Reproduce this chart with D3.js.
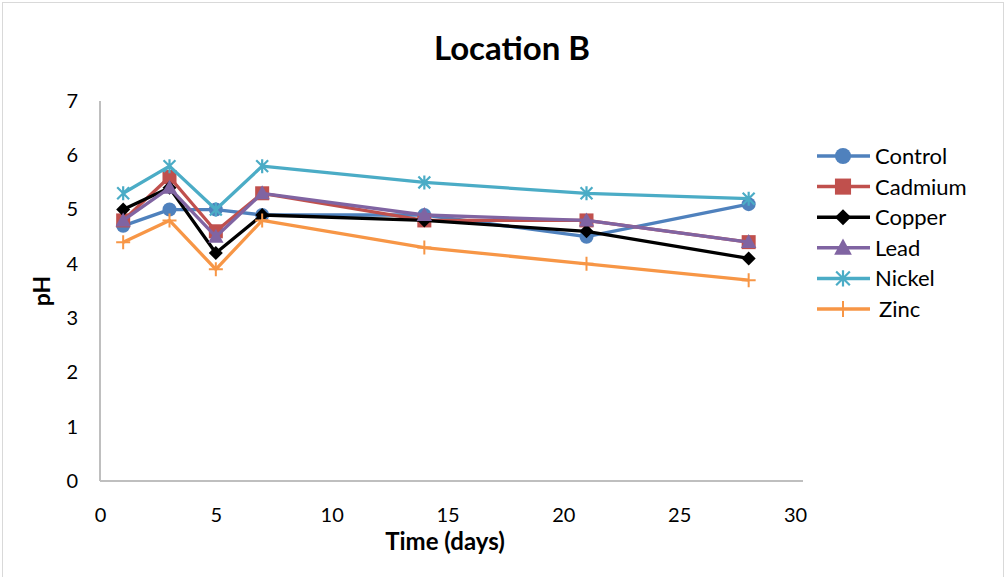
<!DOCTYPE html>
<html>
<head>
<meta charset="utf-8">
<script src="https://cdn.jsdelivr.net/npm/d3@7"></script>
<style>
  body { margin: 0; background: #ffffff; }
  svg text { font-family: Lato, "Open Sans", sans-serif; fill: #000000; }
</style>
</head>
<body>
<div id="chart-container"></div>
<script>
const DAYS = [1, 3, 5, 7, 14, 21, 28];
const SERIES_NAMES = ["Control", "Cadmium", "Copper", "Lead", "Nickel", "Zinc"];
const CONTROL = [4.7, 5.0, 5.0, 4.9, 4.9, 4.5, 5.1];
const CADMIUM = [4.8, 5.6, 4.6, 5.3, 4.8, 4.8, 4.4];
const COPPER  = [5.0, 5.4, 4.2, 4.9, 4.8, 4.6, 4.1];
const LEAD    = [4.8, 5.4, 4.5, 5.3, 4.9, 4.8, 4.4];
const NICKEL  = [5.3, 5.8, 5.0, 5.8, 5.5, 5.3, 5.2];
const ZINC    = [4.4, 4.8, 3.9, 4.8, 4.3, 4.0, 3.7];
const X_TICKS = [0, 5, 10, 15, 20, 25, 30];
const Y_TICKS = [0, 1, 2, 3, 4, 5, 6, 7];

const SERIES_VALUES = [CONTROL, CADMIUM, COPPER, LEAD, NICKEL, ZINC];
const SERIES_COLORS = ["#4F81BD", "#C0504D", "#000000", "#8064A2", "#4BACC6", "#F79646"];
const SERIES_SHAPES = ["circle", "square", "diamond", "triangle", "asterisk", "plus"];

const SVG_WIDTH = 1006;
const SVG_HEIGHT = 577;
const X_LEFT = 100, X_RIGHT = 795;
const Y_TOP = 101, Y_BOTTOM = 481;

const svg = d3.select("#chart-container")
  .append("svg")
  .attr("width", SVG_WIDTH)
  .attr("height", SVG_HEIGHT);

// outer chart border
svg.append("rect")
  .attr("x", 2.5).attr("y", 2.5)
  .attr("width", SVG_WIDTH - 5).attr("height", SVG_HEIGHT + 10)
  .attr("fill", "none")
  .attr("stroke", "#d9d9d9");

const xScale = d3.scaleLinear().domain([0, 30]).range([X_LEFT, X_RIGHT]);
const yScale = d3.scaleLinear().domain([0, 7]).range([Y_BOTTOM, Y_TOP]);

function drawMarker(g, shape, color, cx, cy, k) {
  const s = 7 * k;
  if (shape == "circle") {
    g.append("circle").attr("cx", cx).attr("cy", cy).attr("r", s).attr("fill", color);
  } else if (shape == "square") {
    g.append("rect").attr("x", cx - s).attr("y", cy - s)
      .attr("width", 2 * s).attr("height", 2 * s).attr("fill", color);
  } else if (shape == "diamond") {
    g.append("path")
      .attr("d", `M${cx},${cy - s} L${cx + s},${cy} L${cx},${cy + s} L${cx - s},${cy} Z`)
      .attr("fill", color);
  } else if (shape == "triangle") {
    g.append("path")
      .attr("d", `M${cx},${cy - 1.15 * s} L${cx + 1.1 * s},${cy + 0.85 * s} L${cx - 1.1 * s},${cy + 0.85 * s} Z`)
      .attr("fill", color);
  } else if (shape == "asterisk") {
    const a = 0.85 * s;
    g.append("path")
      .attr("d", `M${cx - a},${cy - a} L${cx + a},${cy + a} M${cx - a},${cy + a} L${cx + a},${cy - a} M${cx},${cy - s} L${cx},${cy + s}`)
      .attr("stroke", color).attr("stroke-width", 2.2).attr("fill", "none");
  } else if (shape == "plus") {
    g.append("path")
      .attr("d", `M${cx - s},${cy} L${cx + s},${cy} M${cx},${cy - s} L${cx},${cy + s}`)
      .attr("stroke", color).attr("stroke-width", 2).attr("fill", "none");
  }
}

// axes
const xAxis = svg.append("g")
  .attr("class", "x-axis")
  .attr("transform", `translate(0, ${Y_BOTTOM})`)
  .call(d3.axisBottom(xScale).tickValues(X_TICKS).tickSize(0).tickPadding(27));
const yAxis = svg.append("g")
  .attr("class", "y-axis")
  .attr("transform", `translate(${X_LEFT}, 0)`)
  .call(d3.axisLeft(yScale).tickValues(Y_TICKS).tickFormat(d3.format("d")).tickSize(0).tickPadding(22));

svg.selectAll(".x-axis path, .y-axis path")
  .attr("stroke", "#bfbfbf")
  .attr("stroke-width", 2);
svg.selectAll(".x-axis text, .y-axis text")
  .style("font-size", "20px")
  .style("font-family", "Lato, sans-serif")
  .attr("fill", "#000000");
// excel style: axis line only runs across the plot, not past it
xAxis.select("path").attr("d", `M${X_LEFT},0H${X_RIGHT + 8}`);
yAxis.select("path").attr("d", `M0,${Y_TOP}V${Y_BOTTOM}`);

// lines + markers
const d3line = d3.line()
  .x(d => xScale(d.t))
  .y(d => yScale(d.value));

for (let i = 0; i < SERIES_NAMES.length; i++) {
  const data = DAYS.map((t, j) => ({t: t, value: SERIES_VALUES[i][j]}));
  const g = svg.append("g").attr("class", `${SERIES_NAMES[i]}-plot`);
  g.append("path")
    .datum(data)
    .attr("d", d3line)
    .attr("fill", "none")
    .attr("stroke", SERIES_COLORS[i])
    .attr("stroke-width", 3.3)
    .attr("stroke-linejoin", "round");
  data.forEach(d => drawMarker(g, SERIES_SHAPES[i], SERIES_COLORS[i], xScale(d.t), yScale(d.value), 1));
}

// legend
const legend = svg.append("g").attr("class", "legend");
for (let i = 0; i < SERIES_NAMES.length; i++) {
  const y = 156 + i * 30.6;
  legend.append("line")
    .attr("x1", 817).attr("x2", 870)
    .attr("y1", y).attr("y2", y)
    .attr("stroke", SERIES_COLORS[i])
    .attr("stroke-width", 3.5);
  drawMarker(legend, SERIES_SHAPES[i], SERIES_COLORS[i], 843, y, 1.15);
  legend.append("text")
    .attr("x", SERIES_NAMES[i] == "Zinc" ? 879 : 875)
    .attr("y", y)
    .attr("dy", "0.36em")
    .style("font-size", "22px")
    .text(SERIES_NAMES[i]);
}

// title + axis labels
svg.append("text")
  .attr("x", 512).attr("y", 60)
  .style("text-anchor", "middle")
  .style("font-size", "33px")
  .style("font-weight", "bold")
  .text("Location B");

svg.append("text")
  .attr("x", 445).attr("y", 550)
  .style("text-anchor", "middle")
  .style("font-size", "24px")
  .style("font-weight", "bold")
  .text("Time (days)");

svg.append("text")
  .attr("transform", "rotate(-90)")
  .attr("x", -291).attr("y", 50)
  .style("text-anchor", "middle")
  .style("font-size", "23px")
  .style("font-weight", "bold")
  .text("pH");
</script>
</body>
</html>
